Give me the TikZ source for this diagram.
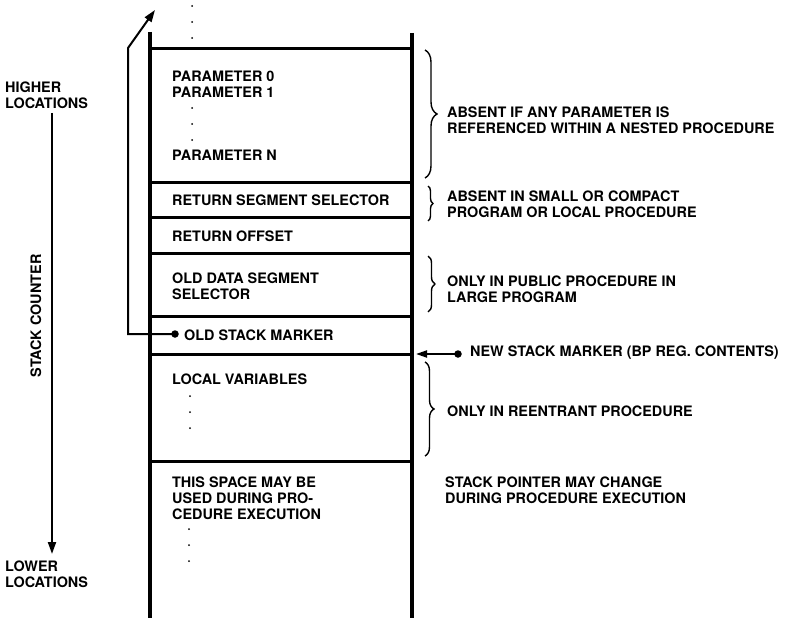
\documentclass[tikz,border=0pt]{standalone}
\usepackage{fontspec}
\setmainfont{TeX Gyre Heros}
\usetikzlibrary{arrows.meta,decorations.pathreplacing}
\begin{document}
\begin{tikzpicture}[x=1pt,y=-1pt,
  lbl/.style={anchor=north west,inner sep=0pt,align=left,
    font=\fontsize{14.4}{15.6}\selectfont\bfseries},
  wall/.style={line width=4pt},
  sep/.style={line width=3pt},
  conn/.style={line width=2pt},
  brc/.style={line width=1.4pt,decorate},
  sdot/.style={circle,fill=black,inner sep=0pt,minimum size=2pt},
  bdot/.style={circle,fill=black,inner sep=0pt,minimum size=7.5pt}]
\useasboundingbox (0,0) rectangle (788,618);
% walls
\coordinate (lwt) at (150,32);
\coordinate (lwb) at (150,618);
\coordinate (rwt) at (412,33);
\coordinate (rwb) at (412,618);
\draw[wall] (lwt) -- (lwb);
\draw[wall] (rwt) -- (rwb);
% separators
\foreach \y/\n in {49/s1,182/s2,217/s3,253/s4,316/s5,354/s6,461/s7}{
  \coordinate (\n l) at (150,\y);
  \coordinate (\n r) at (412,\y);
  \draw[sep] (\n l) -- (\n r);
}
% dots
\foreach \x/\y [count=\i] in {192/6,192/22,192/38,192/108,192/124,192/140,
   190/396,190/412,190/428,189/529,189/545,189/561}{
  \node[sdot] (d\i) at (\x,\y) {};
}
% box texts
\node[lbl] (p01) at (172,71) {PARAMETER 0\\PARAMETER 1};
\node[lbl] (pn) at (172,150) {PARAMETER N};
\node[lbl] (rss) at (172,195) {RETURN SEGMENT SELECTOR};
\node[lbl] (ro) at (172,231) {RETURN OFFSET};
\node[lbl] (ods) at (172,273) {OLD DATA SEGMENT\\SELECTOR};
\node[lbl] (osmt) at (184,330) {OLD STACK MARKER};
\node[lbl] (lv) at (172,374) {LOCAL VARIABLES};
\node[lbl] (ts) at (172,477) {THIS SPACE MAY BE\\USED DURING PRO-\\CEDURE EXECUTION};
% right texts
\node[lbl] (r1) at (447,107) {ABSENT IF ANY PARAMETER IS\\REFERENCED WITHIN A NESTED PROCEDURE};
\node[lbl] (r2) at (447,191) {ABSENT IN SMALL OR COMPACT\\PROGRAM OR LOCAL PROCEDURE};
\node[lbl] (r3) at (447,276) {ONLY IN PUBLIC PROCEDURE IN\\LARGE PROGRAM};
\node[lbl] (nsm) at (470,346) {NEW STACK MARKER (BP REG. CONTENTS)};
\node[lbl] (r4) at (447,406) {ONLY IN REENTRANT PROCEDURE};
\node[lbl] (r5) at (445,477) {STACK POINTER MAY CHANGE\\DURING PROCEDURE EXECUTION};
% left texts
\node[lbl] (hl) at (5,82) {HIGHER\\LOCATIONS};
\node[lbl] (ll) at (5,561) {LOWER\\LOCATIONS};
\node[inner sep=0pt,rotate=90,font=\fontsize{14.4}{15.6}\selectfont\bfseries] (sc) at (36,316) {STACK COUNTER};
% stack counter arrow
\coordinate (sct) at (52,113);
\coordinate (scb) at (52,554);
\draw[conn,-{Triangle[length=12pt,width=8pt]}] (sct) -- (scb);
% braces
\coordinate (b1a) at (425,50);  \coordinate (b1b) at (425,178);
\coordinate (b2a) at (428,186); \coordinate (b2b) at (428,221);
\coordinate (b3a) at (428,256); \coordinate (b3b) at (428,312);
\coordinate (b4a) at (425,362); \coordinate (b4b) at (425,456);
\draw[brc,decoration={brace,amplitude=12pt}] (b1a) -- (b1b);
\draw[brc,decoration={brace,amplitude=5pt}] (b2a) -- (b2b);
\draw[brc,decoration={brace,amplitude=7pt}] (b3a) -- (b3b);
\draw[brc,decoration={brace,amplitude=9pt}] (b4a) -- (b4b);
% old stack marker link
\node[bdot] (osm) at (175,334) {};
\coordinate (lc1) at (128,334);
\coordinate (lc2) at (128,48);
\coordinate (ltip) at (155,10);
\draw[conn,-{Triangle[length=12pt,width=8pt]}] (osm.center) -- (lc1) -- (lc2) -- (ltip);
% new stack marker arrow
\node[bdot] (nsmd) at (458,354) {};
\coordinate (ntip) at (416,354);
\draw[conn,-{Triangle[length=11pt,width=7pt]}] (nsmd.center) -- (ntip);
\end{tikzpicture}
\end{document}
